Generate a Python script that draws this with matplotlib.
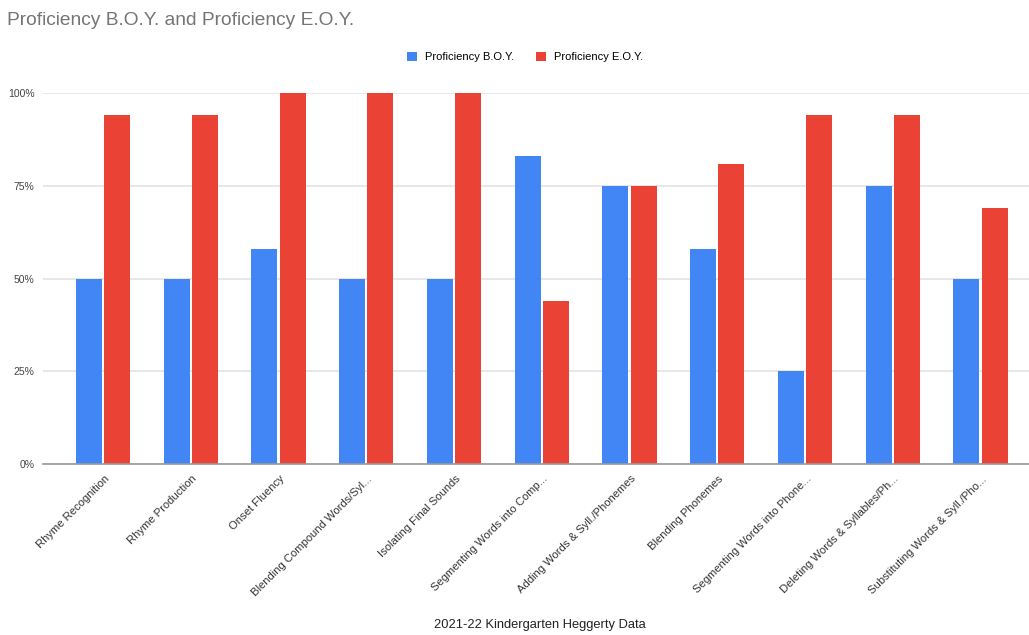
import matplotlib.pyplot as plt
import matplotlib.transforms as mtransforms
import numpy as np

plt.rcParams['font.family'] = ['Liberation Sans', 'DejaVu Sans']

# categories and values
categories = ['Rhyme Recognition', 'Rhyme Production', 'Onset Fluency',
              'Blending Compound Words/Syl...', 'Isolating Final Sounds',
              'Segmenting Words into Comp...', 'Adding Words & Syll./Phonemes',
              'Blending Phonemes', 'Segmenting Words into Phone...',
              'Deleting Words & Syllables/Ph...', 'Substituting Words & Syll./Pho...']
boy = [50, 50, 58, 50, 50, 83, 75, 58, 25, 75, 50]
eoy = [94, 94, 100, 100, 100, 44, 75, 81, 94, 94, 69]
yticks = [0, 25, 50, 75, 100]

fig = plt.figure(figsize=(10.29, 6.35), dpi=100)
ax = fig.add_axes([43 / 1029, 0.2693, 1 - 43 / 1029, 0.5842])

x = np.arange(len(categories))
w = 0.296
ax.bar(x - 0.16, boy, w, color='#4285F4', label='Proficiency B.O.Y.')
ax.bar(x + 0.16, eoy, w, color='#EA4335', label='Proficiency E.O.Y.')

ax.set_xlim(-0.684, 10.553)
ax.set_ylim(0, 100)
ax.set_yticks(yticks)
ax.set_yticklabels([str(t) + '%' for t in yticks], fontsize=7.5, color='#444444')
ax.yaxis.grid(True, color='#e3e3e3', linewidth=1.2)
ax.set_axisbelow(True)
ax.tick_params(axis='y', length=0, pad=6)
ax.tick_params(axis='x', length=0, pad=7)
ax.set_xticks(x)
ax.set_xticklabels(categories, rotation=45, ha='right', rotation_mode='anchor',
                   fontsize=8.1, color='#333333')
# nudge the slanted labels a little to the right like the original
shift = mtransforms.ScaledTranslation(1 / 100, 0, fig.dpi_scale_trans)
for lab in ax.get_xticklabels():
    lab.set_transform(lab.get_transform() + shift)
for s in ['top', 'right', 'left']:
    ax.spines[s].set_visible(False)
ax.spines['bottom'].set_color('#999999')
ax.spines['bottom'].set_linewidth(1.2)

fig.text(0.007, 0.967, 'Proficiency B.O.Y. and Proficiency E.O.Y.', fontsize=13.8,
         color='#757575', va='center')
fig.legend(loc='center', bbox_to_anchor=(0.51, 0.91), ncol=2, frameon=False,
           fontsize=8, handlelength=0.9, handleheight=0.9, columnspacing=2.0,
           handletextpad=0.7)
fig.text(0.525, 0.016, '2021-22 Kindergarten Heggerty Data', fontsize=9.3,
         color='#222222', ha='center', va='center')

plt.savefig('out.png', dpi=100)
